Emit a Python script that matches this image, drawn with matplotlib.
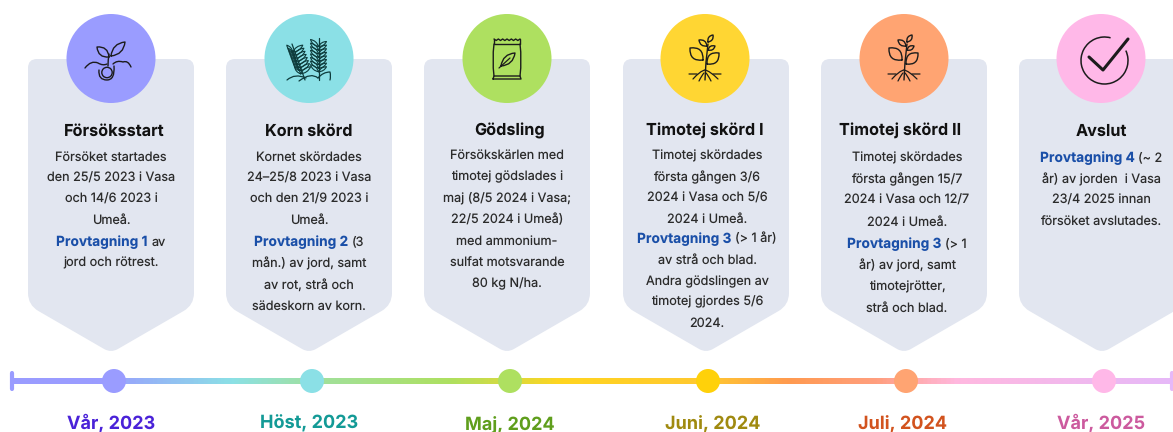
import matplotlib
matplotlib.use("Agg")
import matplotlib.pyplot as plt
import numpy as np
from matplotlib.colors import LinearSegmentedColormap
from matplotlib.patches import Circle, PathPatch, Arc
from matplotlib.path import Path

plt.rcParams['font.family'] = ['Inter', 'DejaVu Sans']
plt.rcParams['text.hinting'] = 'no_hinting'
plt.rcParams['text.hinting_factor'] = 1

# ------------------------------
# DATA
# ------------------------------
titles = ["Försöksstart", "Korn skörd", "Gödsling", "Timotej skörd I", "Timotej skörd II", "Avslut"]
periods = ["Vår, 2023", "Höst, 2023", "Maj, 2024", "Juni, 2024", "Juli, 2024", "Vår, 2025"]

# "*" marks the part of a line printed in blue
body_lines = [
    ["Försöket startades", "den 25/5 2023 i Vasa", "och 14/6 2023 i", "Umeå.",
     "*Provtagning 1* av", "jord och rötrest."],
    ["Kornet skördades", "24–25/8 2023 i Vasa", "och den 21/9 2023 i", "Umeå.",
     "*Provtagning 2* (3", "mån.) av jord, samt", "av rot, strå och", "sädeskorn av korn."],
    ["Försökskärlen med", "timotej gödslades i", "maj (8/5 2024 i Vasa;", "22/5 2024 i Umeå)",
     "med ammonium-", "sulfat motsvarande", "80 kg N/ha."],
    ["Timotej skördades", "första gången 3/6", "2024 i Vasa och 5/6", "2024 i Umeå.",
     "*Provtagning 3* (> 1 år)", "av strå och blad.", "Andra gödslingen av", "timotej gjordes 5/6", "2024."],
    ["Timotej skördades", "första gången 15/7", "2024 i Vasa och 12/7", "2024 i Umeå.",
     "*Provtagning 3* (> 1", "år) av jord, samt", "timotejrötter,", "strå och blad."],
    ["*Provtagning 4* (~ 2", "år) av jorden  i Vasa", "23/4 2025 innan", "försöket avslutades."],
]
line_ys = [
    [157, 178, 199, 220, 242, 263],
    [157, 178, 199, 220, 242, 263, 285, 306],
    [155, 177, 198, 220, 241, 263, 284],
    [156, 177, 198, 219, 239, 260, 282, 302, 323],
    [158, 179, 200, 222, 244, 265, 287, 308],
    [158, 179, 200, 222],
]

card_left = [28, 226, 424, 623, 821, 1019]
circle_x = [111, 309, 507, 705, 904, 1101]
text_x = [111, 309, 507, 707, 907, 1101]
title_x = [114, 309, 510, 705, 900, 1101]
dot_x = [114, 312, 510, 708, 906, 1104]
period_x = [111, 309, 510, 713, 903, 1101]

circle_colors = ['#9a9cff', '#8be0e6', '#aee060', '#ffd633', '#ffa472', '#ffb8e8']
dot_colors = ['#9a9cff', '#8be0e6', '#aee060', '#ffd10a', '#ffa472', '#ffb8e8']
period_colors = ['#4a22d8', '#139a96', '#5f9e1c', '#a08a10', '#d2531e', '#cc5a9e']

grad_x = [12, 100, 230, 310, 450, 560, 708, 790, 880, 960, 1173]
grad_colors = ['#9a9cff', '#9a9cff', '#8be0e6', '#a0e0a0', '#aee060', '#ffd520',
               '#ffc830', '#ff9a50', '#ff9f80', '#ffb8e0', '#e6b8f8']

CARD_COLOR = '#e2e6f0'
INK = '#1c1c1c'
BLUE = '#1a4fa8'
BODY_SIZE = 9.1
BLUE_SIZE = 9.9

# ------------------------------
# HELPERS
# ------------------------------
fig = plt.figure(figsize=(11.73, 4.32), dpi=100)
ax = fig.add_axes([0, 0, 1, 1])
ax.set_xlim(0, 1173)
ax.set_ylim(432, 0)
ax.axis('off')


def card(x0):
    w = 166
    pts = [(x0, 59), (x0 + w, 59), (x0 + w, 305), (x0 + w / 2, 353), (x0, 305)]
    radii = [9, 9, 12, 8, 12]
    verts, codes = [], []
    n = len(pts)
    for i in range(n):
        p = np.array(pts[i], float)
        a = np.array(pts[i - 1], float)
        b = np.array(pts[(i + 1) % n], float)
        p1 = p + (a - p) / np.linalg.norm(a - p) * radii[i]
        p2 = p + (b - p) / np.linalg.norm(b - p) * radii[i]
        verts += [p1, p, p2]
        codes += [Path.LINETO if i else Path.MOVETO, Path.CURVE3, Path.CURVE3]
    verts.append(verts[0])
    codes.append(Path.CLOSEPOLY)
    ax.add_patch(PathPatch(Path(verts, codes), fc=CARD_COLOR, ec='none', zorder=1))


def stroke(points, curved=False, lw=1.0, color=INK):
    if curved:
        # quadratic segments: start, ctrl, end, ctrl, end ...
        codes = [Path.MOVETO] + [Path.CURVE3] * (len(points) - 1)
    else:
        codes = [Path.MOVETO] + [Path.LINETO] * (len(points) - 1)
    ax.add_patch(PathPatch(Path(points, codes), fc='none', ec=color, lw=lw,
                           capstyle='round', joinstyle='round', zorder=4))


def leaf(x0, y0, x1, y1, bulge=0.45, lw=1.0, color=INK):
    dx, dy = x1 - x0, y1 - y0
    nx, ny = -dy * bulge, dx * bulge
    mx, my = (x0 + x1) / 2, (y0 + y1) / 2
    stroke([(x0, y0), (mx + nx, my + ny), (x1, y1), (mx - nx, my - ny), (x0, y0)], True, lw, color)


def plant_icon(cx):
    stroke([(cx, 80), (cx + 1, 62), (cx + 3, 44)])
    leaf(cx - 2, 60, cx - 15, 48, 0.6)
    leaf(cx + 2, 64, cx + 14, 53, 0.6)
    leaf(cx + 3, 50, cx + 10, 46, 0.5)
    leaf(cx + 2, 46, cx - 6, 40, 0.5)
    leaf(cx + 3, 42, cx + 8, 35, 0.5)
    stroke([(cx, 70), (cx - 5, 71), (cx - 12, 79)], True, 0.9)
    stroke([(cx, 70), (cx + 5, 71), (cx + 13, 79)], True, 0.9)
    stroke([(cx - 1, 73), (cx - 3, 75), (cx - 6, 81)], True, 0.9)
    stroke([(cx + 1, 73), (cx + 3, 75), (cx + 6, 81)], True, 0.9)
    stroke([(cx - 8, 74), (cx - 11, 74), (cx - 16, 74)], True, 0.9)
    stroke([(cx + 8, 74), (cx + 11, 74), (cx + 16, 74)], True, 0.9)


def sprout_icon(cx):
    ax.add_patch(Circle((cx - 4, 72.5), 5.2, fc='none', ec=INK, lw=1.0, zorder=4))
    stroke([(cx - 12, 70), (cx - 13, 80), (cx - 4, 80), (cx + 4, 80), (cx + 3, 66)], True)
    stroke([(cx - 26, 68), (cx - 20, 60), (cx - 13, 63), (cx - 8, 66), (cx - 4, 64)], True)
    stroke([(cx + 2, 64), (cx + 6, 60), (cx + 12, 62), (cx + 17, 60), (cx + 20, 67)], True)
    stroke([(cx - 3, 66), (cx - 3, 60), (cx - 2, 54)], True)
    leaf(cx - 2, 57, cx - 14, 47, 0.5)
    leaf(cx, 56, cx + 14, 42, 0.4)


def wheat_icon(cx):
    color = '#0d3b3b'
    for top, bot, tilt in [((cx - 17, 44), (cx - 4, 80), 1), ((cx + 9.5, 38), (cx + 9.5, 80), 0)]:
        stroke([top, bot], lw=0.9, color=color)
        for t in np.linspace(0.06, 0.66, 8):
            sx = top[0] + (bot[0] - top[0]) * t
            sy = top[1] + (bot[1] - top[1]) * t
            leaf(sx, sy + 6, sx - 8 + tilt * 2, sy - 1, 0.3, 0.8, color)
            leaf(sx, sy + 6, sx + 8 + tilt * 2, sy + 1 - tilt * 2, 0.3, 0.8, color)
    stroke([(cx - 22, 80), (cx - 14, 73), (cx - 3, 78)], True, 0.9, color)
    stroke([(cx - 10, 81), (cx + 2, 72), (cx + 9, 78)], True, 0.9, color)
    stroke([(cx + 9, 78), (cx + 14, 72), (cx + 21, 72), (cx + 22, 76), (cx + 21, 80)], True, 0.9, color)


def bag_icon(cx):
    x0, x1 = cx - 13, cx + 13
    teeth = np.linspace(x0, x1, 13)
    top = [(x, 39 + (i % 2) * 1.5) for i, x in enumerate(teeth)]
    stroke(top)
    stroke([(x0, 39), (x0, 44), (x1, 44), (x1, 39)])
    stroke([(x0, 44), (x0 - 2, 60), (x0, 76)], True)
    stroke([(x1, 44), (x1 + 2, 60), (x1, 76)], True)
    stroke([(x0 - 1, 79), (x0, 76), (x1, 76), (x1 + 1, 79), (x0 - 1, 79)])
    leaf(cx - 6, 66, cx + 8, 53, 0.4)
    stroke([(cx - 8, 68), (cx + 3, 58)], lw=0.9)


def check_icon(cx):
    ax.add_patch(Arc((cx + 3.5, 60.5), 47, 47, theta1=-25, theta2=285, ec=INK, lw=1.1, zorder=4))
    stroke([(cx - 12, 57), (cx + 2, 70), (cx + 27, 39)], lw=2.2)


def body_line(x, y, line):
    if not line.startswith('*'):
        ax.text(x, y, line, ha='center', va='center', fontsize=BODY_SIZE, color='#2b2b2b', zorder=5)
        return
    blue_part, rest = line[1:].split('*')
    rest = rest.strip()
    renderer = fig.canvas.get_renderer()
    t1 = ax.text(0, y, blue_part, ha='left', va='center', fontsize=BLUE_SIZE,
                 fontweight='bold', color=BLUE, zorder=5)
    t2 = ax.text(0, y, rest, ha='left', va='center', fontsize=BODY_SIZE, color='#2b2b2b', zorder=5)
    w1 = t1.get_window_extent(renderer).width
    w2 = t2.get_window_extent(renderer).width if rest else 0
    gap = 3.5 if rest else 0
    start = x - (w1 + gap + w2) / 2
    t1.set_x(start)
    t2.set_x(start + w1 + gap)


# ------------------------------
# CARDS
# ------------------------------
for i in range(6):
    card(card_left[i])
    ax.add_patch(Circle((circle_x[i], 58.5), 44.5, fc=circle_colors[i], ec='none', zorder=3))
    ax.text(title_x[i], 131, titles[i], ha='center', va='center', fontsize=11.7,
            fontweight='bold', color='#111111', zorder=5)
    for y, line in zip(line_ys[i], body_lines[i]):
        body_line(text_x[i], y, line)

sprout_icon(circle_x[0])
wheat_icon(circle_x[1])
bag_icon(circle_x[2])
plant_icon(circle_x[3])
plant_icon(circle_x[4])
check_icon(circle_x[5])

# ------------------------------
# TIMELINE
# ------------------------------
stops = [(x - grad_x[0]) / (grad_x[-1] - grad_x[0]) for x in grad_x]
cmap = LinearSegmentedColormap.from_list('timeline', list(zip(stops, grad_colors)))
ax.imshow(np.linspace(0, 1, 600).reshape(1, -1), cmap=cmap, aspect='auto',
          extent=(grad_x[0], grad_x[-1], 383.7, 378.3), zorder=2)
ax.set_xlim(0, 1173)
ax.set_ylim(432, 0)

ax.plot([12.3, 12.3], [373, 389], color=grad_colors[0], lw=3, solid_capstyle='round', zorder=2)
ax.plot([1171.5, 1171.5], [373, 389], color=grad_colors[-1], lw=3, solid_capstyle='round', zorder=2)

for i in range(6):
    ax.add_patch(Circle((dot_x[i], 381), 12, fc=dot_colors[i], ec='none', zorder=3))
    ax.text(period_x[i], 429, periods[i], ha='center', va='baseline', fontsize=13,
            fontweight='bold', color=period_colors[i], zorder=5)

fig.savefig('out.png', dpi=100)
plt.close(fig)
